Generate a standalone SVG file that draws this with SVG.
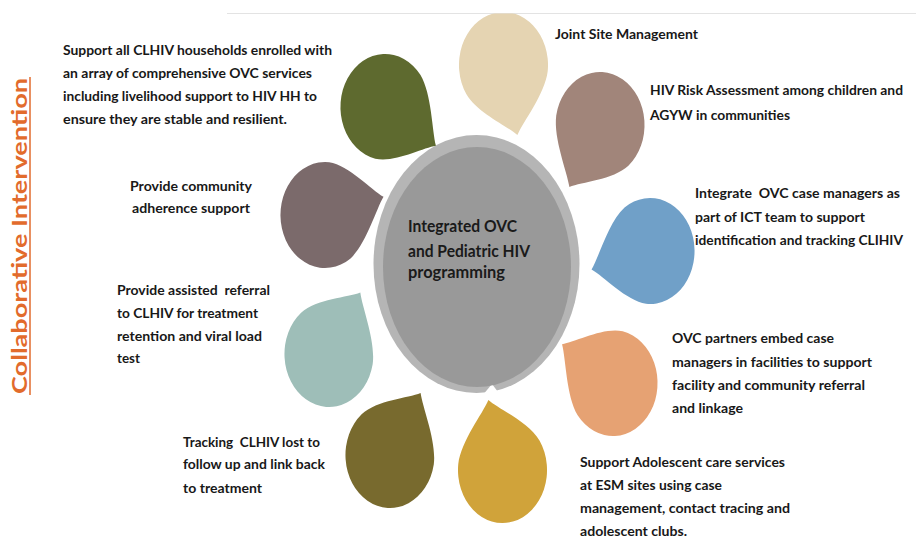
<svg xmlns="http://www.w3.org/2000/svg" width="916" height="552" viewBox="0 0 916 552">
<style>
.t{font-family:Lato,"Liberation Sans",sans-serif;font-size:14px;font-weight:bold;fill:#181818;white-space:pre}
.c{font-family:Lato,"Liberation Sans",sans-serif;font-size:17px;font-weight:bold;fill:#1a1a1a}
.title{font-family:Lato,"Liberation Sans",sans-serif;font-size:21px;font-weight:bold;fill:#E26B2C}
</style>
<defs>
<path id="drop" d="M72,0 C60,10 40,41 18.1,49.8 A53,53 0 1 1 18.1,-49.8 C40,-41 60,-10 72,0Z"/>
<clipPath id="page"><rect x="0" y="13.5" width="916" height="540"/></clipPath>
</defs>
<rect width="916" height="552" fill="#ffffff"/>
<line x1="227" y1="13.5" x2="916" y2="13.5" stroke="#e3e3e3" stroke-width="1"/>

<g id="title">
<text class="title" transform="translate(27,394) rotate(-90)" textLength="316" lengthAdjust="spacingAndGlyphs">Collaborative Intervention</text>
<line x1="30" y1="77" x2="30" y2="395" stroke="#E26B2C" stroke-width="1.5"/>
</g>

<g id="connectors"></g>

<g id="center">
<ellipse cx="476.5" cy="264" rx="103" ry="129" fill="#B5B5B5"/>
<polygon points="482,396 492,384 501,396" fill="#ffffff"/>
<ellipse cx="477" cy="267" rx="94" ry="120" fill="#999999"/>
<text class="c" x="408" y="232" textLength="109" lengthAdjust="spacingAndGlyphs">Integrated OVC</text>
<text class="c" x="408" y="257" textLength="122" lengthAdjust="spacingAndGlyphs">and Pediatric HIV</text>
<text class="c" x="408" y="278" textLength="97" lengthAdjust="spacingAndGlyphs">programming</text>
</g>

<g id="node-joint-site" clip-path="url(#page)">
<use href="#drop" transform="translate(503.5,65) scale(0.84,1) rotate(76.7)" fill="#E5D4B2"/>
<text class="t" x="555" y="39" textLength="143" lengthAdjust="spacingAndGlyphs">Joint Site Management</text>
</g>

<g id="node-risk-assessment">
<use href="#drop" transform="translate(600,125) scale(0.84,1) rotate(120.4)" fill="#A1857A"/>
<text class="t" x="650" y="95" textLength="253" lengthAdjust="spacingAndGlyphs">HIV Risk Assessment among children and</text>
<text class="t" x="650" y="120" textLength="140" lengthAdjust="spacingAndGlyphs">AGYW in communities</text>
</g>

<g id="node-ict-team">
<use href="#drop" transform="translate(650,251) scale(0.84,1) rotate(165.1)" fill="#70A0C8"/>
<text class="t" x="695" y="198" textLength="205" lengthAdjust="spacingAndGlyphs">Integrate  OVC case managers as</text>
<text class="t" x="695" y="222" textLength="170" lengthAdjust="spacingAndGlyphs">part of ICT team to support</text>
<text class="t" x="695" y="245" textLength="208" lengthAdjust="spacingAndGlyphs">identification and tracking CLIHIV</text>
</g>

<g id="node-case-managers">
<use href="#drop" transform="translate(613,383) scale(0.84,1) rotate(-147.4)" fill="#E6A273"/>
<text class="t" x="672" y="343" textLength="162" lengthAdjust="spacingAndGlyphs">OVC partners embed case</text>
<text class="t" x="672" y="367" textLength="200" lengthAdjust="spacingAndGlyphs">managers in facilities to support</text>
<text class="t" x="672" y="390" textLength="193" lengthAdjust="spacingAndGlyphs">facility and community referral</text>
<text class="t" x="672" y="413" textLength="71" lengthAdjust="spacingAndGlyphs">and linkage</text>
</g>

<g id="node-adolescent">
<use href="#drop" transform="translate(502.5,470) scale(0.84,1) rotate(-103.5)" fill="#D0A33A"/>
<text class="t" x="580" y="467" textLength="205" lengthAdjust="spacingAndGlyphs">Support Adolescent care services</text>
<text class="t" x="580" y="490" textLength="142" lengthAdjust="spacingAndGlyphs">at ESM sites using case</text>
<text class="t" x="580" y="513" textLength="210" lengthAdjust="spacingAndGlyphs">management, contact tracing and</text>
<text class="t" x="580" y="536" textLength="107" lengthAdjust="spacingAndGlyphs">adolescent clubs.</text>
</g>

<g id="node-tracking">
<use href="#drop" transform="translate(390,455) scale(0.84,1) rotate(-59.6)" fill="#786A2E"/>
<text class="t" x="183" y="447" textLength="137" lengthAdjust="spacingAndGlyphs">Tracking  CLHIV lost to</text>
<text class="t" x="183" y="469" textLength="142" lengthAdjust="spacingAndGlyphs">follow up and link back</text>
<text class="t" x="183" y="493" textLength="79" lengthAdjust="spacingAndGlyphs">to treatment</text>
</g>

<g id="node-referral">
<use href="#drop" transform="translate(329,354) scale(0.84,1) rotate(-58.8)" fill="#9EBEB8"/>
<text class="t" x="117" y="295" textLength="153" lengthAdjust="spacingAndGlyphs">Provide assisted  referral</text>
<text class="t" x="117" y="318" textLength="141" lengthAdjust="spacingAndGlyphs">to CLHIV for treatment</text>
<text class="t" x="117" y="341" textLength="145" lengthAdjust="spacingAndGlyphs">retention and viral load</text>
<text class="t" x="117" y="363" textLength="23" lengthAdjust="spacingAndGlyphs">test</text>
</g>

<g id="node-adherence">
<use href="#drop" transform="translate(325,215) scale(0.84,1) rotate(-14.6)" fill="#7B6A6B"/>
<text class="t" x="130" y="191" textLength="122" lengthAdjust="spacingAndGlyphs">Provide community</text>
<text class="t" x="132" y="213" textLength="118" lengthAdjust="spacingAndGlyphs">adherence support</text>
</g>

<g id="node-households">
<use href="#drop" transform="translate(385,107) scale(0.84,1) rotate(32.6)" fill="#5E6A2F"/>
<text class="t" x="63" y="55" textLength="269" lengthAdjust="spacingAndGlyphs">Support all CLHIV households enrolled with</text>
<text class="t" x="63" y="78" textLength="249" lengthAdjust="spacingAndGlyphs">an array of comprehensive OVC services</text>
<text class="t" x="63" y="101" textLength="254" lengthAdjust="spacingAndGlyphs">including livelihood support to HIV HH to</text>
<text class="t" x="63" y="124" textLength="224" lengthAdjust="spacingAndGlyphs">ensure they are stable and resilient.</text>
</g>
</svg>
